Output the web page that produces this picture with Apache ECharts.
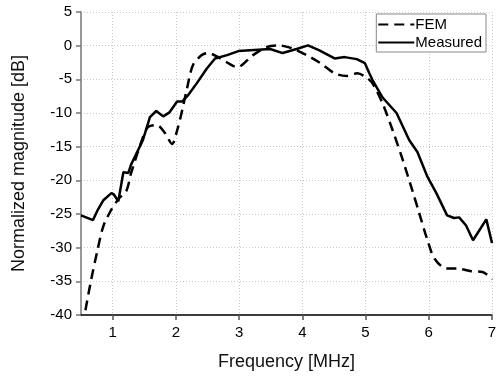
<!DOCTYPE html>
<html><head><meta charset="utf-8">
<script src="https://cdn.jsdelivr.net/npm/echarts@6/dist/echarts.min.js"></script>
<style>html,body{margin:0;padding:0;background:#fff}#c{width:500px;height:378px}</style>
</head><body><div id="c"></div>
<script>
var xTicks = [1, 2, 3, 4, 5, 6, 7];
var femFreq = [0.57,0.66,0.76,0.85,0.96,1.09,1.22,1.29,1.48,1.56,1.70,1.83,1.94,2.02,2.10,2.18,2.27,2.41,2.51,2.65,2.81,2.97,3.22,3.44,3.62,3.84,4.07,4.27,4.51,4.70,4.87,5.01,5.11,5.27,5.43,5.59,5.74,5.85,5.98,6.09,6.28,6.45,6.67,6.85,7.0];
var femDb = [-39.3,-34.8,-30.4,-26.9,-24.7,-22.8,-21.5,-19.0,-13.6,-12.1,-11.8,-13.0,-14.6,-12.6,-9.6,-6.2,-2.9,-1.4,-1.1,-1.6,-2.5,-3.2,-1.4,-0.2,0.05,-0.4,-1.4,-2.5,-4.1,-4.5,-4.1,-4.7,-5.6,-8.6,-12.6,-17.0,-21.5,-24.9,-28.9,-31.6,-33.1,-33.1,-33.5,-33.6,-34.7];
var measFreq = [0.5,0.69,0.77,0.85,0.98,1.02,1.09,1.17,1.25,1.29,1.48,1.59,1.69,1.80,1.90,2.02,2.10,2.19,2.33,2.49,2.62,2.81,2.99,3.49,3.69,3.91,4.09,4.27,4.51,4.67,4.86,4.99,5.06,5.11,5.27,5.49,5.69,5.82,5.98,6.12,6.29,6.40,6.48,6.59,6.70,6.91,7.0];
var measDb = [-25.2,-25.9,-24.3,-23.0,-21.9,-22.1,-23.1,-18.8,-18.9,-17.7,-14.0,-10.6,-9.7,-10.5,-9.9,-8.3,-8.3,-7.4,-5.6,-3.4,-1.9,-1.4,-0.8,-0.5,-1.1,-0.5,0.05,-0.7,-1.9,-1.7,-2.0,-2.6,-4.1,-5.1,-7.7,-10.0,-14.0,-15.8,-19.5,-21.9,-25.2,-25.6,-25.5,-26.7,-28.9,-25.8,-29.3];

function pairs(a, b) { return a.map(function (v, i) { return [v, b[i]]; }); }

var chart = echarts.init(document.getElementById('c'), null, {renderer: 'canvas'});
var font = '"Liberation Sans", Arial, sans-serif';
chart.setOption({
  animation: false,
  backgroundColor: '#fff',
  textStyle: {fontFamily: font},
  grid: {left: 81, right: 8, top: 12, bottom: 63, containLabel: false},
  legend: {
    orient: 'vertical', right: 14, top: 14,
    backgroundColor: '#fff', borderColor: '#888', borderWidth: 1,
    padding: [3, 4, 2, 1], itemGap: 3, itemWidth: 36, itemHeight: 14,
    itemStyle: {opacity: 0},
    textStyle: {fontFamily: font, fontSize: 15, color: '#000', padding: [0, 0, 0, -4]},
    data: ['FEM', 'Measured']
  },
  xAxis: {
    type: 'value', min: 0.5, max: 7,
    name: 'Frequency [MHz]', nameLocation: 'middle', nameGap: 38,
    nameTextStyle: {fontFamily: font, fontSize: 18, color: '#111'},
    axisLine: {onZero: false, lineStyle: {color: '#000', width: 1.5}},
    axisTick: {show: true, inside: false, length: 5, customValues: xTicks, lineStyle: {color: '#555', width: 1.5}},
    axisLabel: {customValues: xTicks, margin: 10, fontFamily: font, fontSize: 15, color: '#000'},
    splitLine: {show: true, lineStyle: {color: '#c8c8c8', type: [1, 2], width: 1}}
  },
  yAxis: {
    type: 'value', min: -40, max: 5, interval: 5,
    name: 'Normalized magnitude [dB]', nameLocation: 'middle', nameGap: 53,
    nameTextStyle: {fontFamily: font, fontSize: 18, color: '#111'},
    axisLine: {show: true, onZero: false, lineStyle: {color: '#777', width: 1.5}},
    axisTick: {show: true, inside: false, length: 5, lineStyle: {color: '#777', width: 1.5}},
    axisLabel: {margin: 9, fontFamily: font, fontSize: 15, color: '#000'},
    splitLine: {show: true, lineStyle: {color: '#c8c8c8', type: [1, 2], width: 1}}
  },
  series: [
    {name: 'FEM', type: 'line', data: pairs(femFreq, femDb), symbol: 'none', smooth: 0.3,
     lineStyle: {color: '#000', width: 2.5, type: [10, 6]}, itemStyle: {color: '#000'}},
    {name: 'Measured', type: 'line', data: pairs(measFreq, measDb), symbol: 'none',
     lineStyle: {color: '#000', width: 2.5, type: 'solid'}, itemStyle: {color: '#000'}}
  ]
});
</script></body></html>
